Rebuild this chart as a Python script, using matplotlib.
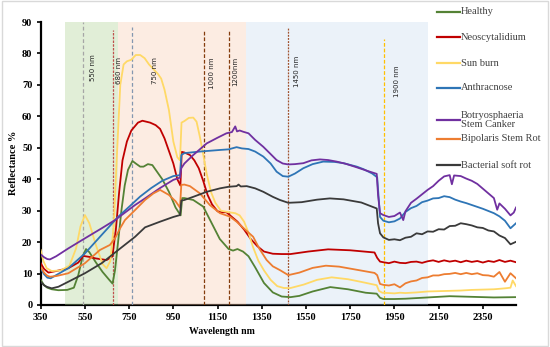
import matplotlib.pyplot as plt
from matplotlib.lines import Line2D
from matplotlib.patches import Rectangle

plt.rcParams['font.family'] = ['Liberation Serif', 'DejaVu Serif']

# ---- data (wavelength nm, reflectance %) ----
noise_wl = [1900, 1925, 1950, 1975, 2000, 2025, 2050, 2075, 2100, 2125, 2150, 2175,
            2200, 2225, 2250, 2275, 2300, 2325, 2350, 2375, 2400, 2425, 2450, 2475, 2500]

healthy_wl = [350, 365, 380, 400, 430, 470, 500, 520, 540, 555, 570, 600, 630, 660, 675,
              686, 700, 715, 730, 745, 765, 780, 800, 815, 835, 855, 875, 900, 930, 960,
              983, 990, 1000, 1040, 1085, 1120, 1160, 1200, 1220, 1240, 1265, 1290, 1320,
              1360, 1400, 1440, 1480, 1520, 1580, 1660, 1740, 1820, 1870, 1885, 1900, 1950,
              2000, 2100, 2200, 2300, 2400, 2500]
healthy = [8.0, 6.3, 5.5, 5.0, 4.7, 4.8, 5.5, 9.5, 15.5, 17.8, 16.8, 13.5, 10.5, 8.0, 6.8,
           11.0, 20.0, 30.0, 38.0, 43.0, 45.8, 45.0, 44.0, 44.0, 44.8, 44.5, 42.5, 40.0, 36.0,
           31.0, 28.5, 34.0, 34.0, 33.4, 31.3, 26.5, 21.0, 17.8, 17.3, 17.8, 17.0, 15.5, 12.0,
           7.0, 4.0, 2.7, 2.5, 2.9, 4.3, 5.7, 5.0, 3.9, 3.6, 2.3, 1.9, 1.9,
           2.0, 2.4, 2.8, 2.6, 2.4, 2.5]

neo_wl = [350, 365, 385, 420, 475, 520, 543, 570, 600, 648, 674, 690, 705, 720, 740, 760,
          790, 810, 845, 870, 890, 910, 930, 950, 968, 982, 988, 1000, 1025, 1045, 1065,
          1085, 1105, 1125, 1150, 1170, 1190, 1215, 1240, 1270, 1300, 1330, 1360, 1400,
          1440, 1480, 1560, 1650, 1750, 1860, 1872, 1885] + noise_wl
neo = [13.3, 11.5, 10.3, 10.8, 11.7, 13.5, 15.6, 15.3, 14.8, 14.3, 15.4, 24.0, 36.0, 46.0,
       52.0, 55.5, 58.0, 58.6, 58.0, 57.2, 56.0, 53.0, 49.0, 45.0, 40.0, 38.0, 48.7, 48.5,
       47.7, 46.0, 43.5, 39.5, 35.0, 32.0, 29.8, 29.5, 29.5, 28.0, 26.5, 24.0, 21.0, 18.7,
       17.0, 16.3, 16.2, 16.2, 17.0, 17.7, 17.4, 16.7, 15.0, 13.8,
       13.6, 13.3, 13.8, 13.4, 13.3, 13.7, 13.8, 13.4, 13.9, 14.2, 13.7, 14.2, 13.8, 14.1,
       13.6, 14.1, 13.7, 14.0, 13.5, 14.0, 13.7, 14.3, 13.7, 14.1, 13.6]

sun_wl = [350, 362, 377, 400, 440, 480, 510, 530, 550, 570, 600, 630, 648, 665, 680, 695,
          710, 725, 740, 760, 780, 800, 820, 840, 860, 880, 895, 910, 930, 950, 968, 980,
          987, 1000, 1020, 1040, 1055, 1070, 1085, 1100, 1120, 1140, 1165, 1200, 1230, 1250,
          1270, 1290, 1310, 1335, 1360, 1390, 1420, 1450, 1480, 1540, 1600, 1666, 1740,
          1810, 1870, 1880, 1895, 1925, 1950, 1975, 2000, 2050, 2100, 2150, 2200, 2250,
          2300, 2350, 2400, 2450, 2475, 2485, 2500]
sun = [17.5, 14.0, 11.7, 10.8, 11.0, 12.5, 18.0, 25.0, 28.6, 26.0, 19.0, 13.0, 11.7, 14.0,
       25.0, 48.0, 70.0, 76.5, 77.5, 78.0, 79.5, 79.5, 78.5, 76.5, 75.0, 73.5, 72.0, 68.5,
       62.0, 52.0, 47.0, 46.0, 58.0, 58.5, 59.5, 59.6, 58.3, 53.5, 48.0, 42.0, 36.0, 32.5,
       30.0, 29.5, 29.2, 28.5, 26.5, 23.0, 18.5, 14.0, 11.0, 8.0, 6.0, 5.4, 5.4, 6.5, 8.0,
       8.8, 8.2, 7.2, 6.3, 4.5, 3.9, 3.8, 3.7, 3.9, 3.8, 4.0, 4.3, 4.4, 4.5, 4.6,
       4.8, 4.9, 5.0, 5.3, 5.5, 7.8, 6.0]

anth_wl = [350, 365, 380, 395, 420, 475, 550, 626, 701, 754, 800, 850, 900, 950, 980, 986,
           1000, 1070, 1160, 1200, 1236, 1260, 1290, 1320, 1357, 1390, 1417, 1445, 1470,
           1500, 1538, 1580, 1628, 1680, 1720, 1780, 1810, 1850, 1872, 1885] + noise_wl
anth = [11.7, 9.8, 8.7, 8.5, 9.5, 11.7, 16.4, 22.3, 28.1, 31.5, 34.5, 37.2, 39.5, 41.0,
        41.3, 47.7, 48.3, 48.8, 49.3, 49.5, 50.2, 49.8, 49.6, 48.8, 47.2, 45.0, 42.4, 41.0,
        40.8, 41.8, 43.5, 44.8, 45.6, 45.5, 45.1, 44.0, 43.2, 41.8, 40.6, 28.0,
        26.8, 26.3, 26.6, 27.5, 29.6, 30.8, 31.5, 32.7, 33.2, 33.9, 34.0, 34.6, 34.3, 33.5,
        32.9, 32.4, 31.8, 31.2, 30.6, 29.9, 29.2, 28.2, 26.8, 24.4, 26.0]

botry_wl = [350, 365, 380, 392, 420, 475, 550, 626, 686, 777, 822, 890, 950, 980, 986,
            1000, 1040, 1101, 1150, 1190, 1215, 1230, 1238, 1250, 1266, 1290, 1320, 1357,
            1390, 1417, 1445, 1470, 1500, 1538, 1575, 1613, 1650, 1689, 1730, 1779, 1830,
            1870, 1876, 1885, 1900, 1925, 1950, 1975, 1990, 2000, 2025, 2050, 2075, 2100,
            2125, 2150, 2175, 2200, 2210, 2220, 2250, 2275, 2300, 2325, 2350, 2375, 2400,
            2415, 2425, 2450, 2475, 2490, 2500]
botry = [16.1, 15.2, 14.6, 14.5, 15.5, 18.0, 21.2, 24.4, 27.0, 31.8, 33.9, 37.2, 39.8,
         40.5, 43.5, 45.0, 47.7, 51.4, 53.2, 54.6, 55.0, 56.8, 55.2, 55.5, 55.1, 54.6, 52.5,
         50.3, 48.0, 46.1, 45.0, 44.7, 44.8, 45.1, 46.0, 46.3, 46.1, 45.6, 44.9, 43.8, 42.6,
         41.7, 35.0, 29.2, 28.6, 28.0, 28.3, 29.4, 27.0, 29.8, 32.5, 33.8, 35.2, 36.6,
         37.8, 39.5, 40.9, 41.3, 38.4, 41.2, 41.0, 40.2, 39.5, 38.5, 37.0, 35.5, 34.0,
         30.3, 32.3, 30.6, 28.5, 29.4, 31.0]

bipo_wl = [350, 365, 380, 392, 420, 475, 550, 618, 663, 686, 710, 731, 777, 822, 860, 890,
           930, 960, 980, 986, 1000, 1025, 1070, 1115, 1161, 1206, 1236, 1270, 1311, 1340,
           1372, 1400, 1432, 1470, 1520, 1580, 1640, 1700, 1780, 1860, 1872, 1885] + noise_wl
bipo = [12.2, 10.3, 9.3, 9.0, 9.2, 10.1, 13.3, 17.5, 19.1, 21.2, 24.5, 27.0, 30.2, 33.4,
        35.5, 36.6, 35.0, 33.0, 31.0, 38.2, 38.3, 37.8, 35.5, 31.8, 29.2, 28.1, 26.5, 24.3,
        21.7, 17.8, 14.3, 12.3, 11.1, 9.5, 10.3, 11.8, 12.5, 12.2, 11.2, 10.2, 9.5, 6.7,
        6.4, 6.2, 6.6, 5.6, 6.9, 7.5, 7.8, 8.6, 8.8, 9.4, 9.4, 9.8, 9.9, 10.2, 9.8, 10.2,
        9.8, 10.1, 9.5, 9.4, 9.0, 10.5, 7.4, 10.1, 8.5]

bact_wl = [350, 365, 377, 400, 430, 475, 550, 626, 701, 777, 822, 890, 950, 980, 986, 1000,
           1040, 1101, 1161, 1200, 1236, 1245, 1255, 1282, 1320, 1357, 1400, 1432, 1470,
           1530, 1600, 1658, 1720, 1800, 1870, 1876, 1885] + noise_wl
bact = [7.4, 6.3, 5.8, 5.3, 5.8, 7.4, 10.1, 13.3, 17.5, 21.7, 24.7, 26.5, 28.0, 28.6, 33.2,
        33.4, 34.4, 36.0, 37.1, 37.6, 37.8, 38.3, 37.7, 37.8, 37.1, 36.0, 34.4, 33.4, 32.5,
        32.7, 33.5, 33.9, 33.6, 32.6, 30.7, 26.0, 22.8,
        21.5, 20.7, 20.9, 20.6, 21.4, 21.7, 22.8, 22.5, 23.4, 23.3, 24.1, 24.0, 25.1, 25.2,
        26.0, 25.7, 25.3, 24.7, 24.5, 23.7, 23.4, 22.1, 21.3, 19.3, 20.1]

series = [
    ('Healthy', healthy_wl, healthy, '#548235'),
    ('Neoscytalidium', neo_wl, neo, '#c00000'),
    ('Sun burn', sun_wl, sun, '#ffd966'),
    ('Anthracnose', anth_wl, anth, '#2e75b6'),
    ('Botryosphaeria\nStem Canker', botry_wl, botry, '#7030a0'),
    ('Bipolaris Stem Rot', bipo_wl, bipo, '#ed7d31'),
    ('Bacterial soft rot', bact_wl, bact, '#3a3a3a'),
]

# marker lines: drawn position, label, top value, colour, dash pattern
marks = [(543, '550 nm', 90, '#a6a6a6', (3, 2)),
         (677, '680 nm', 87.5, '#c0504d', (2, 1)),
         (763, '750 nm', 88.4, '#8497b0', (3, 2)),
         (1088, '1000 nm', 87.5, '#843c0c', (3, 1.5)),
         (1200, '1200nm', 87.5, '#843c0c', (3, 1.5)),
         (1470, '1450 nm', 88.4, '#a0522d', (1.5, 1)),
         (1905, '1900 nm', 84.6, '#ffc000', (3, 1.5))]
mark_text = [(587, 75.4), (706, 74.7), (867, 74.7), (1123, 73.7), (1229, 74.2),
             (1511, 74.2), (1960, 71.0)]

fig = plt.figure(figsize=(5.5, 3.47), dpi=100)
ax = fig.add_axes([40.7 / 550, 42 / 347, 475.3 / 550, 283 / 347])

# shaded bands
ax.axvspan(460, 700, color='#a9d08e', alpha=0.35, lw=0, zorder=2.6)
ax.axvspan(700, 1280, color='#f8cbad', alpha=0.35, lw=0, zorder=2.6)
ax.axvspan(1280, 2100, color='#bdd7ee', alpha=0.3, lw=0, zorder=2.6)

for x, lab, top, c, d in marks:
    ax.plot([x, x], [0, top], color=c, lw=0.9, dashes=d, zorder=2.8)
for (x, lab, top, c, d), (tx, ty) in zip(marks, mark_text):
    ax.text(tx, ty, lab, rotation=90, ha='center', va='center', fontsize=5,
            family='DejaVu Sans', color='#222222', zorder=5)

for lab, wl, val, c in series:
    ax.plot(wl, val, color=c, lw=1.3, zorder=3)

ax.set_xlim(350, 2500)
ax.set_ylim(0, 90)
ax.set_xticks(range(350, 2351, 200))
ax.set_yticks(range(0, 91, 10))
for s in ['top', 'right']:
    ax.spines[s].set_visible(False)
for s in ['left', 'bottom']:
    ax.spines[s].set_linewidth(1.6)
ax.tick_params(length=3, width=1.2, pad=3, labelsize=7.5)
for t in ax.get_xticklabels() + ax.get_yticklabels():
    t.set_fontweight('bold')

fig.text(14 / 550, 1 - 163 / 347, 'Reflectance %', rotation=90, ha='center', va='center',
         fontsize=7.5, fontweight='bold')
fig.text(222 / 550, 1 - 332 / 347, 'Wavelength nm', ha='center', va='center',
         fontsize=7, fontweight='bold')

# legend drawn by hand to match the spacing of the original
leg_y = [12, 37, 63, 88, 120, 139, 165]
for (lab, wl, val, c), y in zip(series, leg_y):
    fig.add_artist(Line2D([437 / 550, 460 / 550], [1 - y / 347, 1 - y / 347], color=c, lw=1.6))
    fig.text(461 / 550, 1 - y / 347, lab, ha='left', va='center', fontsize=7.5,
             color='#404040', linespacing=1.05)

fig.patches.append(Rectangle((0.003, 0.004), 0.994, 0.992, transform=fig.transFigure,
                             fill=False, ec='#d9d9d9', lw=1))

plt.savefig('out.png', dpi=100)
